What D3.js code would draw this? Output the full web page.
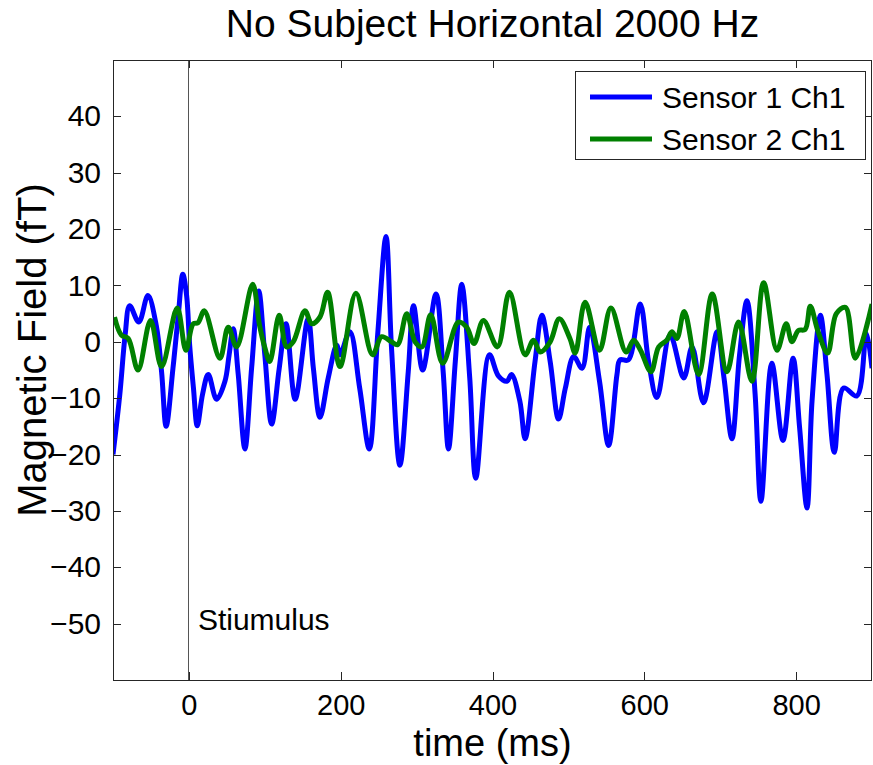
<!DOCTYPE html>
<html><head><meta charset="utf-8">
<script src="https://cdn.jsdelivr.net/npm/d3@7"></script>
<style>body{margin:0;background:#fff;} text{font-family:"Liberation Sans",Arial,sans-serif;fill:#000;}</style>
</head><body>
<svg id="chart" width="873" height="765"></svg>
<script>
const titleText = "No Subject Horizontal 2000 Hz";
const xLabel = "time (ms)";
const yLabel = "Magnetic Field (fT)";
const seriesNames = ["Sensor 1 Ch1", "Sensor 2 Ch1"];
const seriesColors = ["#0000ff", "#008000"];
const xTicks = [0, 200, 400, 600, 800];
const yTicks = [-50, -40, -30, -20, -10, 0, 10, 20, 30, 40];
const xDomain = [-100, 900];
const yDomain = [-60, 50];
const stimulusTime = 0;
const stimulusLabel = "Stiumulus";

const sensor1Time = [-100,-91,-84,-78,-66,-54,-43,-36,-30,-21,-14,-8,-3,1,6,11,18,25.5,36.5,47.5,53,58.4,65,73.8,82.6,92,100,109,119,128,140,157,164,172.7,183.6,194.7,199,212,225,237.7,249,259.7,267,278,289,296,308,325.6,335,342,351,359.5,370,378,396,408,419,425,436,443,456,465,476,487,496,507,518,528,541,553,564,568,579,594.6,605.6,616.6,634,652,663,678,696,705,715.5,725.5,735.3,746,753.7,768,782.7,796,804.6,814.4,821,832,840.7,850.4,862.6,880,892.6,900];
const sensor1Value = [-20,-9.3,1.2,6.4,3.5,8.2,2.9,-5.3,-15,-4.7,4.7,12,8.2,-0.6,-8.2,-14.9,-9.3,-5.8,-10.2,-7,-2.3,2.3,-5.8,-19,-4.7,9,-2.3,-14.6,-4.7,3.2,-10.2,4.1,-4.7,-13.4,-6.4,-0.6,-2.3,1.8,-8.2,-19,1.8,18.7,-1.2,-21.9,-5.3,6.4,-5,8.5,-5.3,-19,-3.5,10.2,-6.4,-24.2,-2.3,-6.1,-7,-5.8,-10.5,-17.2,-3.5,4.7,-3.5,-13.7,-8.2,-2.6,-4.7,2.6,-7,-18.4,-5.8,-3.2,-3.2,6.7,-3.5,-9.9,1.2,-6.4,-0.9,-10.8,1.8,-6.4,-17.2,-2.3,7.3,-9.3,-28.3,-3.8,-17.5,-2.9,-15.2,-29.5,-10.5,4.7,-5.8,-19.6,-8.2,-9.6,1.5,-4.7];

const sensor2Time = [-98,-89,-80,-67,-50.5,-36,-15.4,-4,5.7,12,20.2,40.9,51.8,62.9,84,93,100,106.5,119,128.8,137.5,152.9,161.8,172.7,182.8,199,220,242,254,267,275,287,298,307,318.6,334.4,355,366,375.7,388,406.5,422.3,443,454,462.8,476,488,502,509,522,541,556,576,586,595,608.7,619,629.7,636.4,643,652.6,671.5,689.5,708.9,724.2,741.8,757.2,774.8,787,794.6,803,812,818.7,829,841.5,853,865,878,900];
const sensor2Value = [4.4,1.2,0.6,-5,3.8,-4.4,6,-1.5,3.2,3.4,5.5,-2.9,2.6,-0.9,10.2,3,-1,-3.5,4.7,-0.9,0,5.5,3.2,4.4,8.8,-4.4,8.6,-2.3,0.9,0,-0.5,5,0,-0.9,4.8,-3.8,3.5,2.6,-0.3,3.8,-0.9,8.8,-2.3,0.3,-1.8,0,4.1,0.6,-2,7,-1.5,6,-1.8,0.3,-1.5,-5.3,-0.9,0.3,1.8,0.6,5.4,-5.8,8.5,-5.3,3.5,-7,10.5,-1.5,3.2,0,2,2.2,6.3,1.8,-2,5,6.1,-2.9,6.7];

const margin = {left:113, top:60, right:1, bottom:85};
const W = 873, H = 765;
const pw = W - margin.left - margin.right, ph = H - margin.top - margin.bottom;
const svg = d3.select("#chart");
const x = d3.scaleLinear().domain(xDomain).range([margin.left, margin.left + pw]);
const y = d3.scaleLinear().domain(yDomain).range([margin.top + ph, margin.top]);

svg.append("clipPath").attr("id","clip").append("rect")
  .attr("x", margin.left).attr("y", margin.top).attr("width", pw).attr("height", ph);

svg.append("line").attr("x1", x(stimulusTime)).attr("x2", x(stimulusTime))
  .attr("y1", y(yDomain[0])).attr("y2", y(yDomain[1]))
  .attr("stroke", "#555").attr("stroke-width", 1).attr("shape-rendering","crispEdges");

const line = d3.line().curve(d3.curveCatmullRom.alpha(0.5)).x(d => x(d[0])).y(d => y(d[1]));
const s1 = sensor1Time.map((t,i) => [t, sensor1Value[i]]);
const s2 = sensor2Time.map((t,i) => [t, sensor2Value[i]]);
const g = svg.append("g").attr("clip-path","url(#clip)");
g.append("path").datum(s1).attr("d", line).attr("fill","none").attr("stroke", seriesColors[0]).attr("stroke-width", 5).attr("stroke-linejoin","round");
g.append("path").datum(s2).attr("d", line).attr("fill","none").attr("stroke", seriesColors[1]).attr("stroke-width", 5).attr("stroke-linejoin","round");

const axColor = "#262626";
function styleAxis(sel, fs){
  sel.select(".domain").remove();
  sel.selectAll(".tick line").attr("stroke", axColor).attr("shape-rendering","crispEdges");
  sel.selectAll(".tick text").style("font-size", fs + "px").attr("fill","#000");
}
svg.append("g").attr("transform", `translate(0,${margin.top+ph})`)
  .call(d3.axisBottom(x).tickValues(xTicks).tickSize(-8).tickPadding(14).tickFormat(d3.format("d")))
  .call(s => styleAxis(s, 29));
svg.append("g").attr("transform", `translate(0,${margin.top})`)
  .call(d3.axisTop(x).tickValues(xTicks).tickSize(-8).tickFormat(""))
  .call(s => styleAxis(s, 29));
svg.append("g").attr("transform", `translate(${margin.left},0)`)
  .call(d3.axisLeft(y).tickValues(yTicks).tickSize(-8).tickPadding(12).tickFormat(d => d < 0 ? "\u2212" + Math.abs(d) : d))
  .call(s => styleAxis(s, 30));
svg.append("g").attr("transform", `translate(${margin.left+pw},0)`)
  .call(d3.axisRight(y).tickValues(yTicks).tickSize(-8).tickFormat(""))
  .call(s => styleAxis(s, 30));
svg.append("rect").attr("x", margin.left+0.5).attr("y", margin.top+0.5).attr("width", pw-1).attr("height", ph)
  .attr("fill","none").attr("stroke", axColor).attr("stroke-width",1);

svg.append("text").attr("x", x(stimulusTime) + 9).attr("y", y(-50) + 6)
  .style("font-size","30px").text(stimulusLabel);

svg.append("text").attr("x", margin.left + pw/2).attr("y", 37).attr("text-anchor","middle")
  .style("font-size","39px").text(titleText);
svg.append("text").attr("x", margin.left + pw/2).attr("y", 756).attr("text-anchor","middle")
  .style("font-size","38px").text(xLabel);
svg.append("text").attr("transform", `translate(46,${margin.top+ph/2 - 20}) rotate(-90)`).attr("text-anchor","middle")
  .style("font-size","40px").text(yLabel);

const lg = svg.append("g");
lg.append("rect").attr("x", 575.5).attr("y", 71.5).attr("width", 290).attr("height", 88)
  .attr("fill","#fff").attr("stroke", axColor).attr("stroke-width",1);
seriesNames.forEach((n,i) => {
  const yy = 97 + i*42;
  lg.append("line").attr("x1", 590).attr("x2", 652).attr("y1", yy).attr("y2", yy)
    .attr("stroke", seriesColors[i]).attr("stroke-width", 5);
  lg.append("text").attr("x", 662).attr("y", yy + 11).style("font-size","30px").text(n);
});
</script>
</body></html>
